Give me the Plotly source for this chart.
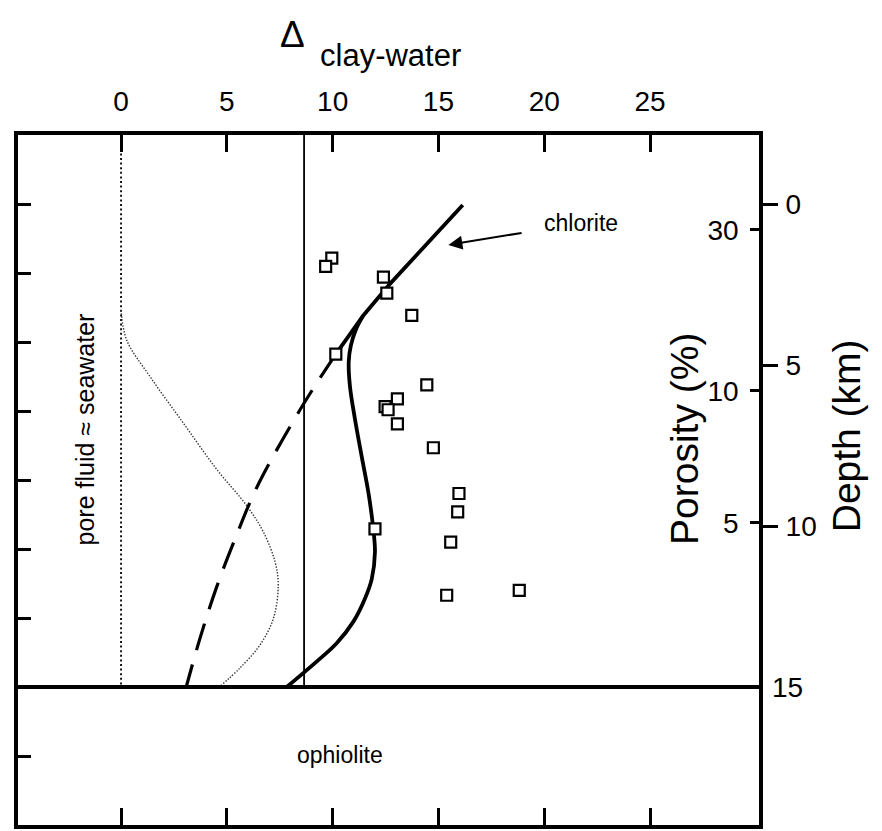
import plotly.graph_objects as go

# ---- axis extents and ticks ----
delta_range = [-4.87, 30.15]
depth_range = [15 + 30 / 7, -15 / 7]          # depth increases downward
delta_ticks = [0, 5, 10, 15, 20, 25]
depth_ticks = [0, 5, 10]
base_tick = [15]
porosity_labels = ["30", "10", "5"]
porosity_depths = [0.8, 5.8, 9.9]
left_ticks = [k * 15 / 7 for k in range(0, 10)]

# ---- measured clay-water fractionation ----
sample_delta = [9.96, 9.67, 12.40, 12.56, 13.74, 10.15, 14.45, 13.06, 12.48, 12.62,
                13.06, 14.76, 15.97, 15.91, 15.58, 12.00, 15.39, 18.82]
sample_depth = [1.68, 1.94, 2.27, 2.77, 3.46, 4.66, 5.62, 6.05, 6.29, 6.39,
                6.83, 7.57, 8.99, 9.56, 10.50, 10.09, 12.15, 12.00]

# ---- chlorite equilibrium curves ----
chl_upper_delta = [16.15, 12.71, 11.45, 10.15]
chl_upper_depth = [0.03, 2.48, 3.46, 4.66]

chl_curve_delta = [11.45, 11.10, 10.86, 10.76, 10.82, 11.06, 11.37, 11.69, 11.92,
                   12.00, 11.85, 11.53, 10.98, 10.19, 9.35, 7.83]
chl_curve_depth = [3.46, 3.90, 4.40, 4.90, 5.67, 6.70, 7.83, 8.96, 10.09,
                   10.81, 11.64, 12.25, 12.97, 13.64, 14.15, 15.0]

chl_dash_delta = [10.15, 8.46, 6.41, 5.39, 4.52, 3.73, 3.08]
chl_dash_depth = [4.66, 6.39, 8.81, 10.40, 11.89, 13.49, 15.0]

# ---- pore fluid composition ----
seawater_delta = [0, 0]
seawater_depth = [-15 / 7, 15]
pore_delta = [0.0, 0.27, 1.37, 2.94, 4.52, 5.94, 6.73, 7.28, 7.43, 7.20, 6.57, 5.62, 4.68]
pore_depth = [3.3, 4.23, 5.36, 6.80, 8.24, 9.37, 10.19, 11.12, 11.84, 12.87, 13.69, 14.41, 14.98]

ref_delta = [8.65, 8.65]
ref_depth = [-15 / 7, 15]
ophiolite_top = 15

FONT = "Liberation Sans, Arial, Helvetica, sans-serif"
INK = "black"

fig = go.Figure()

fig.add_trace(go.Scatter(x=seawater_delta, y=seawater_depth, mode="lines",
                         line=dict(color=INK, width=1.8, dash="2px,2.6px"),
                         showlegend=False, hoverinfo="skip"))
fig.add_trace(go.Scatter(x=pore_delta, y=pore_depth, mode="lines",
                         line=dict(color="#333", width=1.4, dash="1.4px,1.6px", shape="spline"),
                         showlegend=False, hoverinfo="skip"))
fig.add_trace(go.Scatter(x=ref_delta, y=ref_depth, mode="lines",
                         line=dict(color=INK, width=1.8),
                         showlegend=False, hoverinfo="skip"))
fig.add_trace(go.Scatter(x=chl_dash_delta, y=chl_dash_depth, mode="lines",
                         line=dict(color=INK, width=3.2, dash="28px,15px", shape="spline"),
                         showlegend=False, hoverinfo="skip"))
fig.add_trace(go.Scatter(x=chl_upper_delta, y=chl_upper_depth, mode="lines",
                         line=dict(color=INK, width=3.8),
                         showlegend=False, hoverinfo="skip"))
fig.add_trace(go.Scatter(x=chl_curve_delta, y=chl_curve_depth, mode="lines",
                         line=dict(color=INK, width=3.8, shape="spline", smoothing=1.0),
                         showlegend=False, hoverinfo="skip"))
fig.add_trace(go.Scatter(x=sample_delta, y=sample_depth, mode="markers",
                         marker=dict(symbol="square", size=11, color="white",
                                     line=dict(color=INK, width=2.2)),
                         showlegend=False, hoverinfo="skip"))

# placeholder traces so the extra right-hand axes are drawn
for ax_name in ("y2", "y3", "y4"):
    fig.add_trace(go.Scatter(x=[None], y=[None], yaxis=ax_name,
                             showlegend=False, hoverinfo="skip"))

# boundary between sediment column and ophiolite basement
fig.add_shape(type="line", xref="paper", yref="y", x0=0, x1=1,
              y0=ophiolite_top, y1=ophiolite_top, line=dict(color=INK, width=3.8))

ann = []
ann.append(dict(x=0.3698, y=1.1455, xref="paper", yref="paper", text="Δ", showarrow=False,
                font=dict(family=FONT, size=37, color=INK), xanchor="center", yanchor="middle"))
ann.append(dict(x=0.4049, y=1.1153, xref="paper", yref="paper", text="clay-water",
                showarrow=False, font=dict(family=FONT, size=31, color=INK),
                xanchor="left", yanchor="middle"))
ann.append(dict(x=-1.70, y=7.0, xref="x", yref="y", text="pore fluid ≈ seawater",
                showarrow=False, textangle=-90,
                font=dict(family=FONT, size=25, color=INK), xanchor="center", yanchor="middle"))
ann.append(dict(x=21.75, y=0.59, xref="x", yref="y", text="chlorite", showarrow=False,
                font=dict(family=FONT, size=23, color=INK), xanchor="center", yanchor="middle"))
ann.append(dict(x=15.47, y=1.27, xref="x", yref="y", ax=19.0, ay=0.89,
                axref="x", ayref="y", text="", showarrow=True,
                arrowhead=2, arrowsize=1.4, arrowwidth=2, arrowcolor=INK))
ann.append(dict(x=10.35, y=17.1, xref="x", yref="y", text="ophiolite", showarrow=False,
                font=dict(family=FONT, size=23, color=INK), xanchor="center", yanchor="middle"))
ann.append(dict(x=26.6, y=7.3, xref="x", yref="y", text="Porosity (%)", showarrow=False,
                textangle=-90, font=dict(family=FONT, size=39, color=INK),
                xanchor="center", yanchor="middle"))
ann.append(dict(x=1.1174, y=0.5648, xref="paper", yref="paper", text="Depth (km)",
                showarrow=False, textangle=-90, font=dict(family=FONT, size=39, color=INK),
                xanchor="center", yanchor="middle"))

tickfont = dict(family=FONT, size=28, color=INK)

common = dict(range=depth_range, overlaying="y", side="right", anchor="x",
              showline=False, showgrid=False, zeroline=False, fixedrange=True,
              tickfont=tickfont, tickcolor=INK)

fig.update_layout(
    width=882, height=831,
    margin=dict(l=18, r=123, t=135, b=2),
    paper_bgcolor="white", plot_bgcolor="white",
    annotations=ann,
    xaxis=dict(range=delta_range, side="top", tickvals=delta_ticks,
               ticks="inside", ticklen=17, tickwidth=2.5, tickcolor=INK,
               tickfont=tickfont, ticklabelstandoff=9,
               showline=True, linewidth=3.5, linecolor=INK, mirror="ticks",
               showgrid=False, zeroline=False, fixedrange=True),
    yaxis=dict(range=depth_range, tickvals=left_ticks, showticklabels=False,
               ticks="inside", ticklen=13, tickwidth=3, tickcolor=INK,
               showline=True, linewidth=3.5, linecolor=INK, mirror=True,
               showgrid=False, zeroline=False, fixedrange=True),
    yaxis2=dict(tickvals=depth_ticks, ticks="outside", ticklen=18, tickwidth=2.5,
                ticklabelstandoff=2, **common),
    yaxis3=dict(tickvals=porosity_depths, ticktext=porosity_labels,
                ticks="inside", ticklen=9, tickwidth=2.5,
                ticklabelposition="inside", ticklabelstandoff=14, **common),
    yaxis4=dict(tickvals=base_tick, ticks="", ticklabelstandoff=12, **common),
)

fig.write_html("out.html")
